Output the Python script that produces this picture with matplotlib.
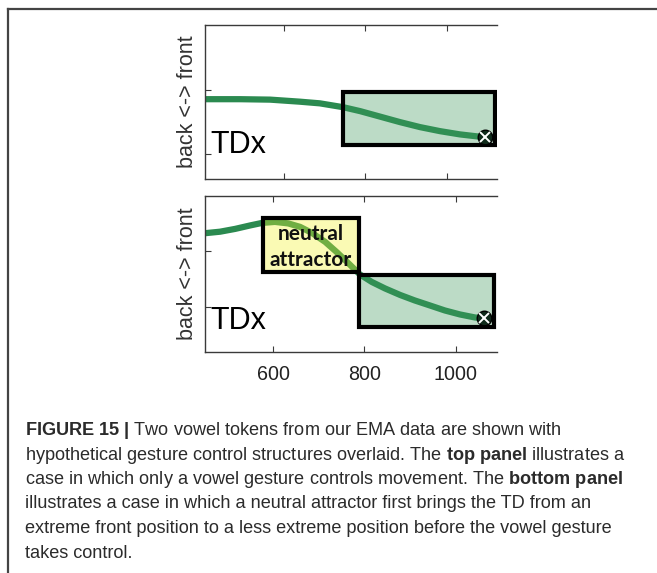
import matplotlib
matplotlib.use("Agg")
import matplotlib.pyplot as plt
from matplotlib.patches import Rectangle
from matplotlib.lines import Line2D
from matplotlib.transforms import IdentityTransform

# ---------------- data ----------------
# top panel: TDx trajectory (time in ms, position in arbitrary units)
top_time = [406, 492, 566, 639, 688, 745, 787, 836, 885, 934, 983, 1032, 1074, 1093, 1123]
top_tdx = [8.59, 8.59, 8.52, 8.20, 7.94, 7.34, 6.72, 5.86, 5.00, 4.22, 3.59, 3.08,
           2.77, 2.69, 2.63]
top_target = (1093, 2.72)
top_vowel_box = (745, 1118, 1.41, 9.69)      # t0, t1, y0, y1
top_xlim = (406, 1123)
top_ylim = (-3.9, 20.2)
top_xticks = [600, 800, 1000]
top_yticks = [0, 10]

# bottom panel
bot_time = [451, 484, 517, 550, 576, 604, 633, 659, 685, 714, 740, 764, 790,
            816, 845, 878, 910, 943, 976, 1009, 1042, 1061, 1085]
bot_tdx = [13.16, 13.43, 13.93, 14.55, 15.00, 15.18, 14.91, 14.29, 13.21, 11.61,
           9.73, 7.86, 5.80, 4.46, 3.30, 2.14, 1.16, 0.27, -0.63, -1.34, -1.88,
           -2.02, -2.11]
bot_target = (1061, -2.0)
bot_neutral_box = (578, 788, 6.25, 15.89)
bot_vowel_box = (788, 1083, -3.57, 5.71)
bot_xlim = (451, 1090)
bot_ylim = (-8.04, 19.8)
bot_xticks = [600, 800, 1000]
bot_xticklabels = ["600", "800", "1000"]
bot_yticks = [0, 10]

ylabel_text = "back <-> front"
panel_label = "TDx"
neutral_label = ["neutral", "attractor"]

caption_lines = [
    r"$\mathbf{FIGURE\ 15\ |}$ Two vowel tokens from our EMA data are shown with",
    r"hypothetical gesture control structures overlaid. The $\mathbf{top\ panel}$ illustrates a",
    r"case in which only a vowel gesture controls movement. The $\mathbf{bottom\ panel}$",
    r"illustrates a case in which a neutral attractor first brings the TD from an",
    r"extreme front position to a less extreme position before the vowel gesture",
    r"takes control.",
]

# ---------------- style ----------------
W, H = 657, 573
DPI = 100
plt.rcParams["font.family"] = ["Liberation Sans", "DejaVu Sans"]
plt.rcParams["mathtext.fontset"] = "custom"
plt.rcParams["mathtext.rm"] = "Liberation Sans"
plt.rcParams["mathtext.bf"] = "Liberation Sans:bold"
plt.rcParams["mathtext.it"] = "Liberation Sans:italic"

LINE_GREEN = "#2b8a50"
BOX_GREEN = "#3f9a5e"
BOX_YELLOW = "#f2f22a"
SPINE = "#3a3a3a"

fig = plt.figure(figsize=(W / DPI, H / DPI), dpi=DPI)
fig.patch.set_facecolor("white")


def px_axes(left, top, right, bottom):
    return fig.add_axes([left / W, 1 - bottom / H, (right - left) / W, (bottom - top) / H])


def style_axes(ax):
    for s in ["left", "top", "bottom"]:
        ax.spines[s].set_color(SPINE)
        ax.spines[s].set_linewidth(1.0)
    ax.spines["right"].set_visible(False)
    ax.tick_params(axis="both", direction="in", length=4, width=0.8, color=SPINE,
                   top=True, right=False, labelsize=14.2, labelcolor="#222222", pad=9)
    ax.set_ylabel(ylabel_text, fontsize=15.5, color="#333333", labelpad=-4)


def add_box(ax, box, face, alpha):
    t0, t1, y0, y1 = box
    ax.add_patch(Rectangle((t0, y0), t1 - t0, y1 - y0, facecolor=face, alpha=alpha,
                           edgecolor="none", zorder=3))
    ax.add_patch(Rectangle((t0, y0), t1 - t0, y1 - y0, facecolor="none",
                           edgecolor="black", linewidth=3.0, zorder=4))


def add_target(ax, pt):
    ax.plot([pt[0]], [pt[1]], marker="o", markersize=10.5, markerfacecolor="#0f2a1a",
            markeredgecolor="black", markeredgewidth=1.0, zorder=5, clip_on=False)
    ax.plot([pt[0]], [pt[1]], marker="x", markersize=7.5, markeredgecolor="white",
            markeredgewidth=1.4, zorder=6, clip_on=False)


# top panel
ax1 = px_axes(205, 25, 497, 179)
ax1.plot(top_time, top_tdx, color=LINE_GREEN, linewidth=4.5, solid_capstyle="butt",
         solid_joinstyle="round", zorder=2)
add_box(ax1, top_vowel_box, BOX_GREEN, 0.35)
add_target(ax1, top_target)
ax1.set_xlim(*top_xlim)
ax1.set_ylim(*top_ylim)
ax1.set_xticks(top_xticks)
ax1.set_xticklabels([])
ax1.set_yticks(top_yticks)
ax1.set_yticklabels([])
style_axes(ax1)
ax1.text(0.017, 0.169, panel_label, transform=ax1.transAxes, fontsize=22,
         color="black", va="baseline", ha="left", zorder=7)

# bottom panel
ax2 = px_axes(205, 196, 497, 352)
ax2.plot(bot_time, bot_tdx, color=LINE_GREEN, linewidth=4.5, solid_capstyle="butt",
         solid_joinstyle="round", zorder=2)
add_box(ax2, bot_neutral_box, BOX_YELLOW, 0.35)
add_box(ax2, bot_vowel_box, BOX_GREEN, 0.35)
add_target(ax2, bot_target)
ax2.set_xlim(*bot_xlim)
ax2.set_ylim(*bot_ylim)
ax2.set_xticks(bot_xticks)
ax2.set_xticklabels(bot_xticklabels)
ax2.set_yticks(bot_yticks)
ax2.set_yticklabels([])
style_axes(ax2)
ax2.text(0.017, 0.147, panel_label, transform=ax2.transAxes, fontsize=22,
         color="black", va="baseline", ha="left", zorder=7)
cx = (bot_neutral_box[0] + bot_neutral_box[1]) / 2
ax2.text(cx, 13.0, neutral_label[0], fontsize=15, fontweight="bold", family=["Lato", "DejaVu Sans"],
         color="#111111", ha="center", va="center", zorder=7)
ax2.text(cx, 8.4, neutral_label[1], fontsize=15, fontweight="bold", family=["Lato", "DejaVu Sans"],
         color="#111111", ha="center", va="center", zorder=7)

# outer frame (top and left edges)
fig.add_artist(Line2D([8 / W, 1.0], [1 - 8.5 / H, 1 - 8.5 / H], transform=fig.transFigure,
                      color="#444444", linewidth=1.6))
fig.add_artist(Line2D([8 / W, 8 / W], [1 - 8.5 / H, 0.0], transform=fig.transFigure,
                      color="#444444", linewidth=1.6))

# caption
for i, line in enumerate(caption_lines):
    baseline = 435 + 24.5 * i
    fig.text(25, H - baseline, line, transform=IdentityTransform(), fontsize=13.1,
             color="#2b2b2b", ha="left", va="baseline")

fig.savefig("out.png", dpi=DPI, facecolor="white")
